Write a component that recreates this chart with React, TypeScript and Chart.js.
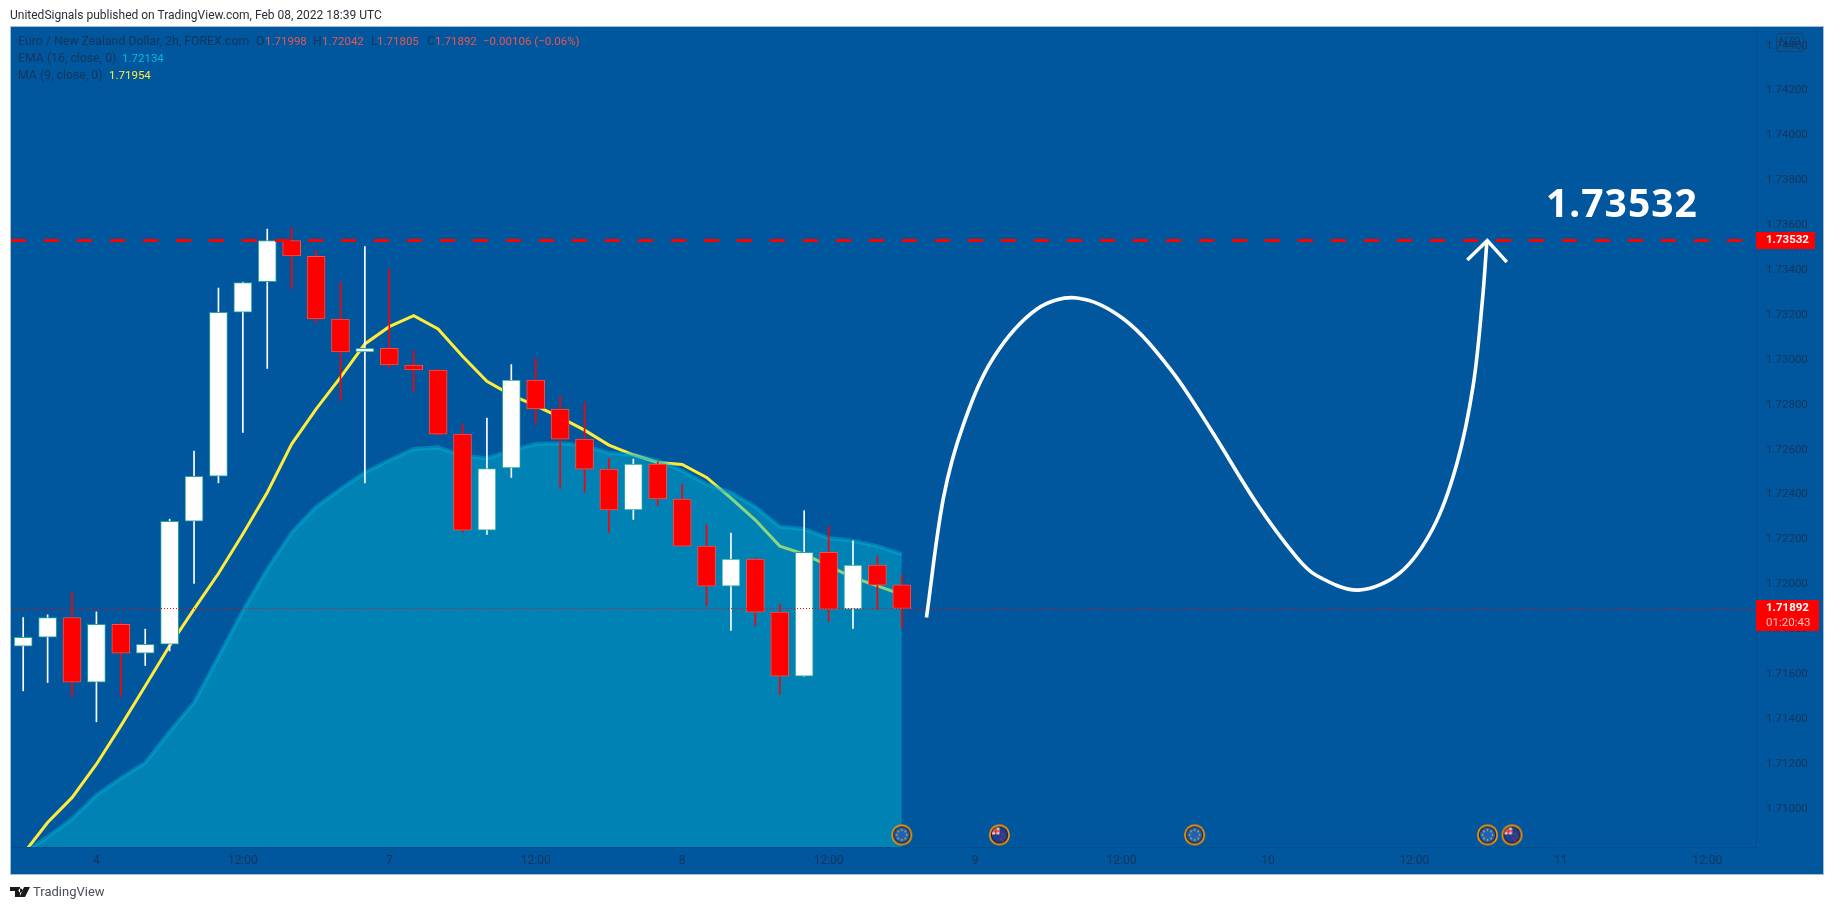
import React, { useEffect, useRef } from "react";
import { Chart, registerables } from "chart.js";

Chart.register(...registerables);

// Candle values: open, high, low, close
const opens = [1.71724,1.71764,1.71852,1.71564,1.71821,1.71693,1.71733,1.72281,1.72482,1.73213,1.73348,1.73532,1.73461,1.73182,1.73035,1.73051,1.72977,1.72955,1.72669,1.72241,1.72519,1.72910,1.72781,1.72647,1.72513,1.72331,1.72536,1.72380,1.72170,1.71992,1.72112,1.71876,1.71590,1.72142,1.71889,1.72085,1.71998];
const closes = [1.71763,1.71852,1.71564,1.71821,1.71693,1.71732,1.72280,1.72481,1.73212,1.73345,1.73532,1.73463,1.73182,1.73035,1.73051,1.72977,1.72955,1.72669,1.72241,1.72516,1.72910,1.72781,1.72647,1.72513,1.72331,1.72536,1.72380,1.72170,1.71992,1.72112,1.71876,1.71590,1.72142,1.71889,1.72085,1.71996,1.71892];
const highs = [1.71852,1.71864,1.71963,1.71877,1.71831,1.71800,1.72290,1.72594,1.73320,1.73347,1.73583,1.73588,1.73487,1.73347,1.73505,1.73405,1.73041,1.72959,1.72714,1.72741,1.72979,1.73007,1.72840,1.72811,1.72562,1.72558,1.72545,1.72446,1.72265,1.72228,1.72117,1.71911,1.72328,1.72259,1.72194,1.72126,1.72042];
const lows = [1.71525,1.71562,1.71500,1.71387,1.71500,1.71638,1.71703,1.72004,1.72452,1.72677,1.72962,1.73319,1.73167,1.72819,1.72452,1.72962,1.72858,1.72662,1.72231,1.72222,1.72476,1.72714,1.72427,1.72409,1.72231,1.72289,1.72351,1.72170,1.71904,1.71794,1.71816,1.71509,1.71590,1.71833,1.71803,1.71889,1.71805];

const maValues = [1.70798,1.70938,1.71049,1.71198,1.71369,1.71547,1.71726,1.71889,1.72048,1.72224,1.72409,1.72625,1.72781,1.72922,1.73071,1.73148,1.73197,1.73138,1.73016,1.72904,1.72843,1.72796,1.72744,1.72687,1.72620,1.72577,1.72543,1.72534,1.72476,1.72384,1.72286,1.72170,1.72134,1.72082,1.72030,1.71993,1.71954];
const emaValues = [1.70803,1.70874,1.70954,1.71061,1.71136,1.71205,1.71344,1.71473,1.71677,1.71882,1.72067,1.72231,1.72345,1.72424,1.72498,1.72553,1.72603,1.72610,1.72573,1.72562,1.72595,1.72625,1.72628,1.72617,1.72585,1.72577,1.72551,1.72506,1.72446,1.72409,1.72345,1.72256,1.72246,1.72206,1.72194,1.72170,1.72134];

// Hand-drawn forecast path (bar position, price)
const pathBars = [37.01,37.71,38.53,39.76,41.54,43.18,45.09,47.00,48.64,50.55,52.19,53.01,54.71,56.42,57.78,58.74,59.42,59.80,59.97];
const pathPrices = [1.71852,1.72387,1.72714,1.73011,1.73227,1.73276,1.73182,1.72959,1.72693,1.72359,1.72119,1.72038,1.71974,1.72052,1.72253,1.72536,1.72892,1.73278,1.73524];
const arrowBars = [59.17,59.99,60.79];
const arrowPrices = [1.73445,1.73532,1.73436];

const targetPrice = 1.73532;
const lastPrice = 1.71892;
const xMin = -0.5;
const xMax = 71;
const yMin = 1.708291;
const yMax = 1.744835;

const priceTicks = [1.71,1.712,1.714,1.716,1.718,1.72,1.722,1.724,1.726,1.728,1.73,1.732,1.734,1.736,1.738,1.74,1.742,1.744];
const timeTickBars = [3,9,15,21,27,33,39,45,51,57,63,69];
const timeTickLabels = ["4","12:00","7","12:00","8","12:00","9","12:00","10","12:00","11","12:00"];

const eventBars = [36,40,48,60,61];
const eventKinds = ["eu","nz","eu","eu","nz"];
const eventPrice = 1.70883;

const FONT = 'Roboto, sans-serif';
const DARK = "#15355c";
const RED_TXT = "#ef5350";

function makeEventIcon(kind: string) {
  const c = document.createElement("canvas");
  c.width = 23; c.height = 23;
  const g = c.getContext("2d")!;
  const m = 11.5;
  g.beginPath(); g.arc(m, m, 10.5, 0, Math.PI * 2); g.fillStyle = "#ff9800"; g.fill();
  g.beginPath(); g.arc(m, m, 8.8, 0, Math.PI * 2); g.fillStyle = "#16213e"; g.fill();
  g.beginPath(); g.arc(m, m, 7.6, 0, Math.PI * 2); g.fillStyle = kind === "eu" ? "#2160b8" : "#1f3f94"; g.fill();
  if (kind === "eu") {
    g.fillStyle = "#f5d90a";
    for (let i = 0; i < 8; i++) {
      const a = (i * Math.PI) / 4;
      g.fillRect(m + Math.cos(a) * 5 - 0.7, m + Math.sin(a) * 5 - 0.7, 1.4, 1.4);
    }
  } else {
    g.save();
    g.beginPath(); g.arc(m, m, 7.6, 0, Math.PI * 2); g.clip();
    g.fillStyle = "#f3c7c7"; g.fillRect(4, 4, 7.5, 7);
    g.fillStyle = "#e03030"; g.fillRect(7, 4, 1.6, 7); g.fillRect(4, 6.8, 7.5, 1.6);
    g.restore();
    g.fillStyle = "#e03030";
    [[14, 10], [16, 13], [12.5, 14.5], [14, 17]].forEach(([x, y]) => g.fillRect(x, y, 1.4, 1.4));
  }
  return c;
}

const framePlugin = {
  id: "frame",
  beforeDraw(chart: any) {
    const { ctx, chartArea: a, scales } = chart;
    const r = scales.y.right, b = scales.x.bottom;
    ctx.save();
    ctx.fillStyle = "#00579d";
    ctx.fillRect(a.left, a.top, r - a.left, b - a.top);
    ctx.strokeStyle = "#a8bdd6";
    ctx.lineWidth = 1;
    ctx.strokeRect(a.left - 0.5, a.top - 0.5, r - a.left + 1, b - a.top + 1);
    ctx.restore();
  },
};

const overlayPlugin = {
  id: "overlay",
  afterDraw(chart: any) {
    const { ctx, scales } = chart;
    const y = scales.y;
    const axisLeft = y.left;
    ctx.save();
    ctx.textBaseline = "middle";
    ctx.textAlign = "left";

    // Legend
    const run = (parts: [string, string, number][], yy: number) => {
      parts.forEach(([t, col, x]) => {
        ctx.font = /^[\u22120-9]/.test(t) ? `11.5px ${FONT}` : `12.3px ${FONT}`;
        ctx.fillStyle = col;
        ctx.fillText(t, x, yy);
      });
    };
    run([
      ["Euro / New Zealand Dollar, 2h, FOREX.com", DARK, 18],
      ["O", DARK, 256], ["1.71998", RED_TXT, 265],
      ["H", DARK, 313], ["1.72042", RED_TXT, 322],
      ["L", DARK, 371], ["1.71805", RED_TXT, 377],
      ["C", DARK, 427], ["1.71892", RED_TXT, 435],
      ["\u22120.00106 (\u22120.06%)", RED_TXT, 483],
    ], 42);
    run([["EMA (16, close, 0)", DARK, 18], ["1.72134", "#00bcd4", 122]], 59);
    run([["MA (9, close, 0)", DARK, 18], ["1.71954", "#ffeb3b", 109]], 76);

    // Big target text
    ctx.font = `bold 39px "Noto Sans", sans-serif`;
    (ctx as any).letterSpacing = "1px";
    ctx.fillStyle = "#ffffff";
    ctx.textBaseline = "alphabetic";
    ctx.fillText("1.73532", 1546, 217);
    (ctx as any).letterSpacing = "0px";
    ctx.textBaseline = "middle";

    // Price labels
    const py1 = y.getPixelForValue(targetPrice);
    ctx.fillStyle = "#ff0000";
    ctx.fillRect(axisLeft, py1 - 8.5, 59, 17);
    ctx.fillStyle = "#ffffff";
    ctx.font = `bold 11.5px ${FONT}`;
    ctx.fillText("1.73532", axisLeft + 10, py1);

    const py2 = y.getPixelForValue(lastPrice);
    ctx.fillStyle = "#ff0000";
    ctx.fillRect(axisLeft, py2 - 8.5, 63, 31);
    ctx.fillStyle = "#ffffff";
    ctx.fillText("1.71892", axisLeft + 10, py2);
    ctx.font = `11.5px ${FONT}`;
    ctx.fillStyle = "rgba(255,255,255,0.75)";
    ctx.fillText("01:20:43", axisLeft + 10, py2 + 15);

    // Currency box
    ctx.strokeStyle = "#1f3f68";
    ctx.lineWidth = 1;
    ctx.beginPath();
    ctx.roundRect(1776.5, 33.5, 27, 18, 3);
    ctx.stroke();
    ctx.fillStyle = DARK;
    ctx.font = `11px ${FONT}`;
    ctx.textAlign = "center";
    ctx.fillText("NZD", 1790, 42.5);
    ctx.restore();
  },
};

export default function App() {
  const ref = useRef<HTMLCanvasElement>(null);

  useEffect(() => {
    const xs = opens.map((_, i) => i);
    const isUp = closes.map((c, i) => c >= opens[i]);
    const chart = new Chart(ref.current!, {
      type: "bar",
      plugins: [framePlugin, overlayPlugin],
      data: {
        datasets: [
          {
            type: "line",
            label: "Target",
            data: [{ x: xMin, y: targetPrice }, { x: xMax, y: targetPrice }],
            borderColor: "#ff0000",
            borderWidth: 3,
            borderDash: [15, 18],
            pointRadius: 0,
            order: 1,
          },
          {
            type: "line",
            label: "Last",
            data: [{ x: xMin, y: lastPrice }, { x: xMax, y: lastPrice }],
            borderColor: "#ff0000",
            borderWidth: 1,
            borderDash: [1, 2],
            pointRadius: 0,
            order: 1,
          },
          {
            type: "line",
            label: "Path",
            data: pathBars.map((x, i) => ({ x, y: pathPrices[i] })),
            borderColor: "#ffffff",
            borderWidth: 3.6,
            borderCapStyle: "butt",
            tension: 0.34,
            pointRadius: 0,
            order: 0,
          },
          {
            type: "line",
            label: "Arrow",
            data: arrowBars.map((x, i) => ({ x, y: arrowPrices[i] })),
            borderColor: "#ffffff",
            borderWidth: 3.4,
            pointRadius: 0,
            order: 0,
          },
          {
            type: "line",
            label: "Events",
            data: eventBars.map((x) => ({ x, y: eventPrice })),
            showLine: false,
            pointStyle: eventKinds.map(makeEventIcon),
            pointRadius: 10,
            clip: false,
            order: 2,
          },
          {
            type: "bar",
            label: "Bodies",
            data: xs.map((x) => ({ x, y: [opens[x], closes[x]] })),
            backgroundColor: isUp.map((u) => (u ? "#ffffff" : "#ff0000")),
            borderColor: isUp.map((u) => (u ? "#26a69a" : "#ef5350")),
            borderWidth: 1,
            borderSkipped: false,
            barThickness: 18,
            grouped: false,
            order: 3,
          },
          {
            type: "bar",
            label: "Wicks",
            data: xs.map((x) => ({ x, y: [lows[x], highs[x]] })),
            backgroundColor: isUp.map((u) => (u ? "#ffffff" : "#ff0000")),
            borderWidth: 0,
            barThickness: 1,
            grouped: false,
            order: 4,
          },
          {
            type: "line",
            label: "EMA",
            data: xs.map((x) => ({ x, y: emaValues[x] })),
            borderColor: "rgba(0,178,210,0.45)",
            borderWidth: 4,
            backgroundColor: "rgba(0,184,210,0.45)",
            fill: "start",
            tension: 0,
            pointRadius: 0,
            order: 5,
          },
          {
            type: "line",
            label: "MA",
            data: xs.map((x) => ({ x, y: maValues[x] })),
            borderColor: "#ffeb3b",
            borderWidth: 3,
            tension: 0,
            pointRadius: 0,
            order: 6,
          },
        ],
      } as any,
      options: {
        responsive: false,
        animation: false,
        events: [],
        layout: { padding: { left: 10, right: 11, top: 27, bottom: 36 } },
        plugins: { legend: { display: false }, tooltip: { enabled: false }, title: { display: false } },
        scales: {
          x: {
            type: "linear",
            offset: false,
            min: xMin,
            max: xMax,
            grid: { display: false, offset: false, drawTicks: false },
            border: { display: true, color: "rgba(19,40,70,0.2)" },
            afterFit: (s: any) => { s.height = 27; },
            afterBuildTicks: (s: any) => { s.ticks = timeTickBars.map((value) => ({ value })); },
            ticks: {
              autoSkip: false,
              maxRotation: 0,
              padding: 7,
              color: DARK,
              font: { family: FONT, size: 12 },
              callback: (v: any) => timeTickLabels[timeTickBars.indexOf(Number(v))] ?? "",
            },
          },
          y: {
            type: "linear",
            position: "right",
            min: yMin,
            max: yMax,
            beginAtZero: false,
            grid: { display: false, drawTicks: false },
            border: { display: true, color: "rgba(19,40,70,0.2)" },
            afterFit: (s: any) => { s.width = 67; },
            afterBuildTicks: (s: any) => { s.ticks = priceTicks.map((value) => ({ value })); },
            ticks: {
              autoSkip: false,
              padding: 10,
              color: DARK,
              font: { family: FONT, size: 11.5 },
              callback: (v: any) => Number(v).toFixed(5),
            },
          },
        },
      } as any,
    });
    return () => chart.destroy();
  }, []);

  return (
    <div style={{ position: "fixed", left: 0, top: 0, width: 1834, height: 910, background: "#fff", overflow: "hidden" }}>
      <canvas ref={ref} width={1834} height={910} style={{ position: "absolute", left: 0, top: 0, display: "block" }} />
      <div style={{ position: "absolute", left: 10, top: 6, font: `12px ${FONT}`, color: "#2a2e39", whiteSpace: "nowrap", lineHeight: "18px" }}>
        UnitedSignals published on TradingView.com, Feb 08, 2022 18:39 UTC
      </div>
      <svg style={{ position: "absolute", left: 10, top: 887 }} width="20" height="11" viewBox="0 0 20 11">
        <path d="M0 0H10V10H5V4H0Z M10.5 1.5a2 2 0 1 0 0.01 0 M14 0H20L15 10H9.5Z" fill="#1a1a1a" />
      </svg>
      <div style={{ position: "absolute", left: 33, top: 882, font: `13px ${FONT}`, color: "#4a4e59", whiteSpace: "nowrap", lineHeight: "20px" }}>
        TradingView
      </div>
    </div>
  );
}
